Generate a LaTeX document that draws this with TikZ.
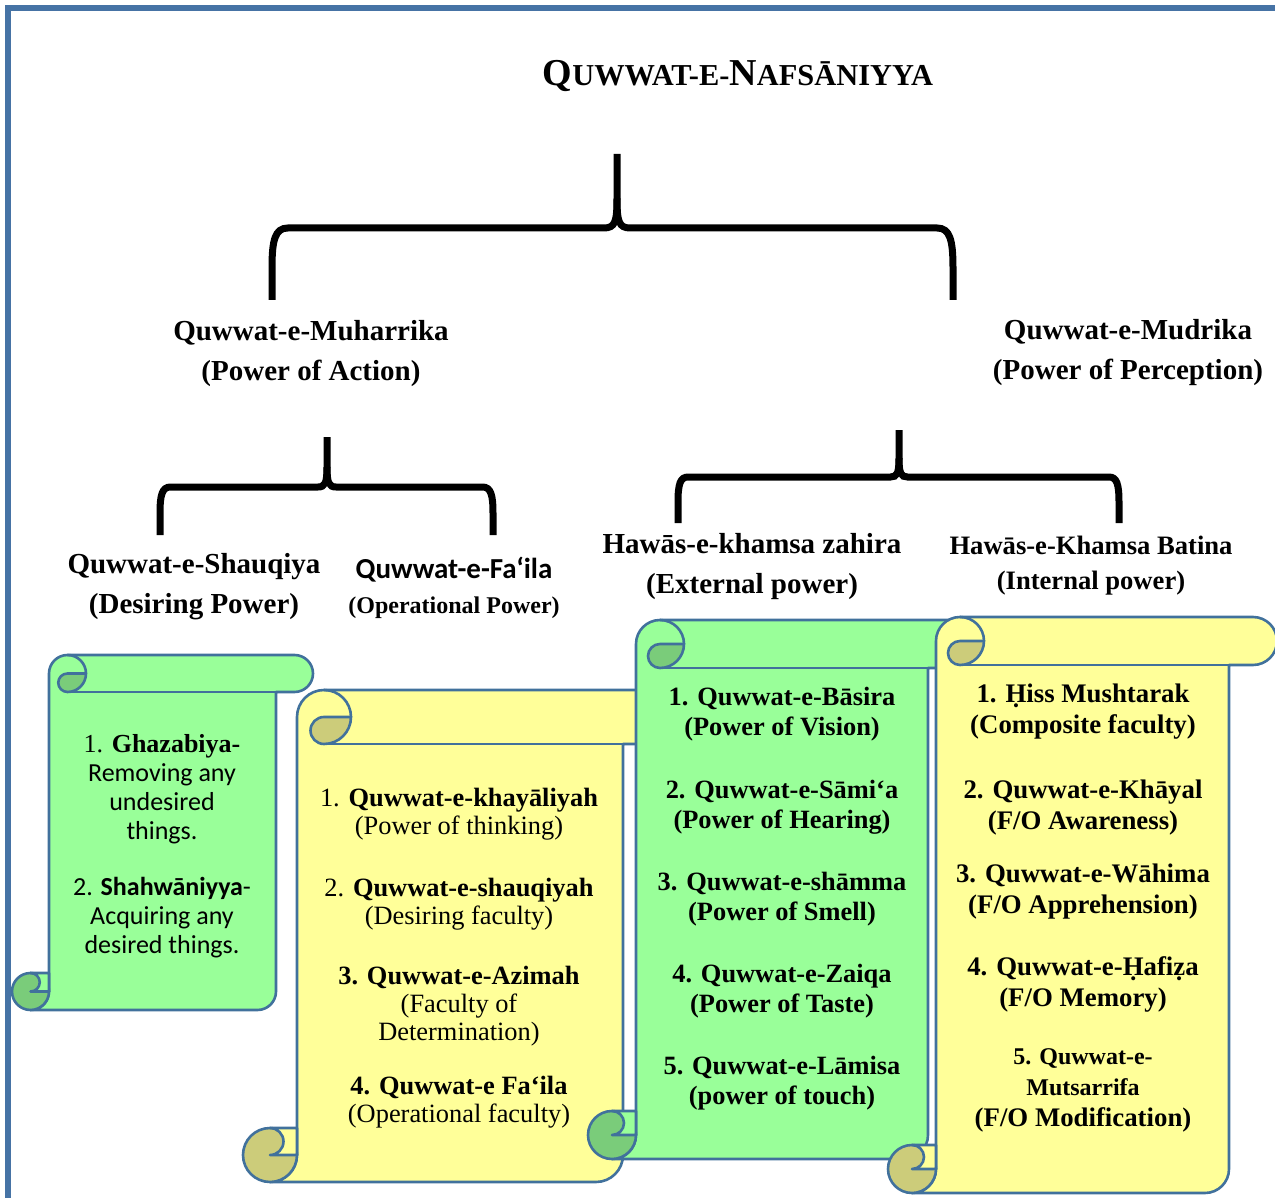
\documentclass[tikz,border=0pt]{standalone}
\usepackage{fontspec}
\setmainfont{Liberation Serif}
\newfontfamily\calibri{Carlito}
\usetikzlibrary{positioning}

\definecolor{lgreen}{RGB}{153,255,153}
\definecolor{dgreen}{RGB}{122,204,122}
\definecolor{lyellow}{RGB}{255,255,153}
\definecolor{dyellow}{RGB}{204,204,122}
\definecolor{scrollline}{RGB}{65,113,156}
\definecolor{framecol}{RGB}{70,115,165}

% vertical scroll: left, top, right, bottom, roll size, light, dark
\newcommand{\vscroll}[7]{%
  \pgfmathsetmacro{\shh}{#5/2}
  \pgfmathsetmacro{\shq}{#5/4}
  \pgfmathsetmacro{\scx}{#1+#5+\shh}
  \pgfmathsetmacro{\scy}{#2+\shh}
  \pgfmathsetmacro{\sbx}{#1+\shh}
  \pgfmathsetmacro{\sby}{#4-\shh}
  \pgfmathsetmacro{\sxb}{#3-#5}
  \pgfmathsetmacro{\sxr}{#3-\shh}
  \pgfmathsetmacro{\sxl}{#1+#5}
  \draw[scroll, fill=#6] (\sbx,#4) -- (\sxb-\shh,#4) arc[start angle=90,end angle=0,radius=\shh]
     -- (\sxb,#2+#5) -- (\sxr,#2+#5) arc[start angle=90,end angle=-90,radius=\shh]
     -- (\scx,#2) arc[start angle=-90,end angle=-180,radius=\shh]
     -- (\sxl,\sby) arc[start angle=0,end angle=90,radius=\shh] -- cycle;
  \draw[scroll] (\scx,#2+#5) -- (\sxb,#2+#5);
  \draw[scroll] (\scx,#2) arc[start angle=-90,end angle=0,radius=\shh];
  \draw[scroll, fill=#7] (\scx,\scy) -- (\scx+\shh,\scy) arc[start angle=0,end angle=90,radius=\shh]
     arc[start angle=90,end angle=270,radius=\shq] -- cycle;
  \draw[scroll, fill=#7] (\sbx,\sby) circle[radius=\shh];
  \draw[scroll, fill=#6] (\sbx,#4-#5) -- (\sxl,#4-#5) -- (\sxl,\sby) -- (\sbx,\sby)
     arc[start angle=90,end angle=-90,radius=\shq] -- cycle;
}

% brace: left end, stem, right end, stem top, bar, leg bottom
\newcommand{\tbrace}[6]{%
  \pgfmathsetmacro{\bcusp}{0.4*(#5-#4)}
  \pgfmathsetmacro{\bh}{0.22*(#6-#5)}
  \pgfmathsetmacro{\bv}{0.55*(#6-#5)}
  \draw[brace] (#2,#4) -- (#2,#5-\bcusp) .. controls (#2,#5-0.2*\bcusp) and (#2-2,#5) .. (#2-0.45*\bcusp,#5)
     -- (#1+\bh,#5) .. controls (#1+0.2*\bh,#5) and (#1,#5+0.3*\bv) .. (#1,#5+\bv) -- (#1,#6);
  \draw[brace] (#2,#5-\bcusp) .. controls (#2,#5-0.2*\bcusp) and (#2+2,#5) .. (#2+0.45*\bcusp,#5)
     -- (#3-\bh,#5) .. controls (#3-0.2*\bh,#5) and (#3,#5+0.3*\bv) .. (#3,#5+\bv) -- (#3,#6);
}

\begin{document}
\begin{tikzpicture}[x=0.5pt,y=-0.5pt]
\tikzset{scroll/.style={draw=scrollline, line width=1.3pt, line join=round},
  brace/.style={line width=3.5pt},
  frame/.style={draw=framecol, line width=3pt},
  head/.style={font=\bfseries\fontsize{14.5}{20}\selectfont, align=center},
  greenitem/.style={font=\calibri\fontsize{13}{14.5}\selectfont, align=center},
  yellowitem/.style={font=\fontsize{13.2}{14}\selectfont, align=center},
  boldgreen/.style={font=\bfseries\fontsize{13.2}{15}\selectfont, align=center},
  boldyellow/.style={font=\bfseries\fontsize{13.4}{15.5}\selectfont, align=center}}
\useasboundingbox (0,0) rectangle (1275,1198);
\draw[frame] (8,1198) -- (8,8) -- (1275,8);

% title and braces
\node[font=\bfseries] (title) at (738,76) {{\fontsize{19}{22}\selectfont Q}{\fontsize{15.2}{22}\selectfont UWWAT-E-}{\fontsize{19}{22}\selectfont N}{\fontsize{15.2}{22}\selectfont AFSĀNIYYA}};
\tbrace{272}{617}{953}{154}{228}{300}
\tbrace{160}{327}{493}{437}{487}{535}
\tbrace{678}{899}{1119}{430}{477}{523}

\node[head] (muharrika) at (311,354) {Quwwat-e-Muharrika\\(Power of Action)};
\node[head] (mudrika) at (1128,353) {Quwwat-e-Mudrika\\(Power of Perception)};
\node[head] (shauqiya) at (194,587) {Quwwat-e-Shauqiya\\(Desiring Power)};
\node[font=\calibri\bfseries\fontsize{14.5}{18}\selectfont] (faila) at (454,570) {Quwwat-e-Fa‘ila};
\node[font=\bfseries\fontsize{12}{14}\selectfont] (failasub) at (454,608) {(Operational Power)};
\node[head] (zahira) at (752,567) {Hawās-e-khamsa zahira\\(External power)};
\node[font=\bfseries\fontsize{13.3}{17.5}\selectfont, align=center] (batina) at (1091,566) {Hawās-e-Khamsa Batina\\(Internal power)};

% scrolls
\vscroll{12}{655}{313}{1010}{37}{lgreen}{dgreen}
\vscroll{243}{690}{677}{1182}{54}{lyellow}{dyellow}
\vscroll{588}{620}{976}{1159}{48}{lgreen}{dgreen}
\vscroll{888}{617}{1277}{1193}{48}{lyellow}{dyellow}

\node[greenitem] (ghazab) at (162,789) {{\rmfamily 1. \textbf{Ghazabiya-}}\\Removing any\\undesired\\things.};
\node[greenitem] (shahwa) at (162,918) {2. \textbf{Shahwāniyya}-\\Acquiring any\\desired things.};

\node[yellowitem] (khayal) at (459,814) {1. \textbf{Quwwat-e-khayāliyah}\\(Power of thinking)};
\node[yellowitem] (shauq) at (459,904) {2. \textbf{Quwwat-e-shauqiyah}\\(Desiring faculty)};
\node[yellowitem] (azimah) at (459,1006) {\textbf{3. Quwwat-e-Azimah}\\(Faculty of\\Determination)};
\node[yellowitem] (failah) at (459,1102) {\textbf{4. Quwwat-e Fa‘ila}\\(Operational faculty)};

\node[boldgreen] (basira) at (782,714) {1. Quwwat-e-Bāsira\\(Power of Vision)};
\node[boldgreen] (samia) at (782,807) {2. Quwwat-e-Sāmi‘a\\(Power of Hearing)};
\node[boldgreen] (shamma) at (782,899) {3. Quwwat-e-shāmma\\(Power of Smell)};
\node[boldgreen] (zaiqa) at (782,991) {4. Quwwat-e-Zaiqa\\(Power of Taste)};
\node[boldgreen] (lamisa) at (782,1083) {5. Quwwat-e-Lāmisa\\(power of touch)};

\node[boldyellow] (hiss) at (1083,712) {1. Ḥiss Mushtarak\\(Composite faculty)};
\node[boldyellow] (khaya) at (1083,808) {2. Quwwat-e-Khāyal\\(F/O Awareness)};
\node[boldyellow] (wahima) at (1083,892) {3. Quwwat-e-Wāhima\\(F/O Apprehension)};
\node[boldyellow] (hafiza) at (1083,984) {4. Quwwat-e-Ḥafiẓa\\(F/O Memory)};
\node[boldyellow] (mutsar) at (1083,1090) {{\fontsize{12}{14}\selectfont 5. Quwwat-e-}\\{\fontsize{12}{14}\selectfont Mutsarrifa}\\(F/O Modification)};
\end{tikzpicture}
\end{document}
